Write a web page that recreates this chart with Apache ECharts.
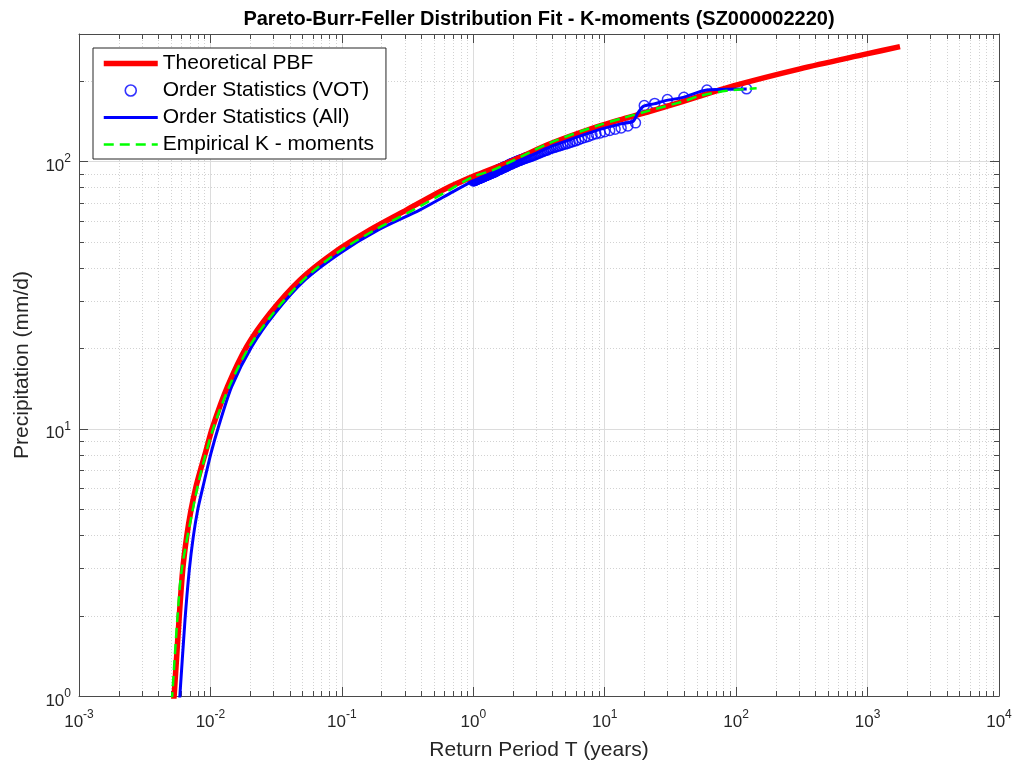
<!DOCTYPE html>
<html>
<head>
<meta charset="utf-8">
<title>Pareto-Burr-Feller Distribution Fit - K-moments (SZ000002220)</title>
<script src="https://cdn.jsdelivr.net/npm/echarts@6.0.0/dist/echarts.min.js"></script>
<style>
  html, body { margin: 0; padding: 0; background: #ffffff; }
  #chart { width: 1019px; height: 762px; }
</style>
</head>
<body>
<div id="chart"></div>
<script>
// Theoretical Pareto-Burr-Feller quantiles: return period T (years) vs precipitation (mm/d)
const pbfT = [0.005236, 0.005311, 0.005768, 0.006152, 0.006597, 0.007116, 0.007768, 0.008403, 0.009141, 0.01042,
  0.01349, 0.01888, 0.02839, 0.04802, 0.0861, 0.1637, 0.3113, 0.5911, 1.062, 2.0, 3.834, 8.69, 13.85, 22.1, 39.6,
  95.1, 306, 985, 1765];
const pbfP = [0.95, 1.024, 1.925, 2.962, 3.947, 4.967, 6.07, 7.01, 8.10, 10.18,
  14.38, 20.29, 27.06, 36.06, 45.4, 55.46, 65.9, 78.3, 89.1, 100.9, 116.4, 134.7, 144.4, 154.0, 167.9,
  191.8, 222.2, 252.7, 269.2];

// Order statistics of the annual values (VOT)
const votT = [120, 60, 40, 30, 24, 20, 17.14, 15, 13.33, 12,
  10.91, 10, 9.23, 8.57, 8, 7.5, 7.06, 6.67, 6.32, 6,
  5.71, 5.45, 5.22, 5, 4.8, 4.62, 4.44, 4.29, 4.14, 4,
  3.87, 3.75, 3.64, 3.53, 3.43, 3.33, 3.24, 3.16, 3.08, 3,
  2.93, 2.86, 2.79, 2.73, 2.67, 2.61, 2.55, 2.5, 2.45, 2.4,
  2.35, 2.31, 2.26, 2.22, 2.18, 2.14, 2.11, 2.07, 2.03, 2,
  1.97, 1.94, 1.9, 1.88, 1.85, 1.82, 1.79, 1.76, 1.74, 1.71,
  1.69, 1.67, 1.64, 1.62, 1.6, 1.58, 1.56, 1.54, 1.52, 1.5,
  1.48, 1.46, 1.45, 1.43, 1.41, 1.4, 1.38, 1.36, 1.35, 1.33,
  1.32, 1.3, 1.29, 1.28, 1.26, 1.25, 1.24, 1.22, 1.21, 1.2,
  1.19, 1.18, 1.17, 1.15, 1.14, 1.13, 1.12, 1.11, 1.1, 1.09,
  1.08, 1.07, 1.06, 1.05, 1.04, 1.03, 1.03, 1.02, 1.01, 1];
const votP = [187, 185, 174, 170.5, 165, 162, 139.5, 135.9, 133.6, 132.1,
  130.6, 129.2, 127.9, 126.9, 125.7, 124.1, 123.0, 121.9, 120.6, 119.5,
  118.6, 117.8, 116.9, 116.2, 115.5, 114.8, 114.2, 113.6, 113.0, 112.4,
  112.0, 111.1, 110.3, 109.9, 109.2, 108.6, 108.3, 107.5, 107.0, 106.4,
  105.9, 105.4, 105.0, 104.4, 104.1, 103.8, 103.4, 103.0, 102.6, 102.2,
  101.8, 101.6, 101.0, 100.7, 100.4, 100.0, 99.6, 99.3, 98.9, 98.6,
  98.2, 97.9, 97.6, 97.2, 96.8, 96.5, 96.1, 95.6, 95.5, 95.2,
  94.9, 94.6, 94.3, 94.0, 93.7, 93.4, 93.2, 92.9, 92.6, 92.3,
  91.9, 91.7, 91.5, 91.2, 90.9, 90.8, 90.6, 90.3, 90.1, 89.9,
  89.7, 89.5, 89.2, 89.1, 88.9, 88.7, 88.5, 88.3, 88.1, 87.9,
  87.7, 87.5, 87.4, 87.1, 87.0, 86.8, 86.6, 86.5, 86.3, 86.2,
  86.0, 85.8, 85.7, 85.5, 85.4, 85.2, 85.1, 84.9, 84.8, 84.6];

// Order statistics of all daily values
const allT = [0.00581, 0.005869, 0.006405, 0.006906, 0.007409, 0.007999, 0.008779, 0.0101, 0.01152, 0.01451,
  0.02061, 0.03099, 0.05244, 0.09678, 0.1893, 0.393, 0.6648, 1.0, 1.34, 1.991,
  2.897, 3.834, 5.94, 9.2, 13.3, 16.4, 17.9, 19.66, 23.7, 29.6,
  39.6, 59.7, 120.3];
const allP = [0.95, 1.02, 1.925, 2.962, 3.947, 4.967, 6.07, 8.10, 10.18, 14.38,
  20.29, 27.06, 36.06, 45.4, 55.46, 65.9, 76.0, 84.6, 90.0, 98.5,
  106.5, 113.4, 122.6, 131.9, 138.3, 141.3, 152.0, 160.8, 164.3, 169.3,
  173.8, 185.3, 186.9];

// Empirical K-moments estimate
const kmT = [0.005056, 0.005128, 0.005596, 0.006045, 0.007331, 0.008553, 0.01051, 0.01391, 0.01975, 0.03008, 0.05087,
  0.09135, 0.1787, 0.3496, 0.6276, 1.0, 1.42, 3.834, 8.69, 13.85, 22.1,
  39.6, 53.1, 84.7, 143.2];
const kmP = [0.95, 1.02, 1.925, 2.962, 4.967, 7.01, 10.04, 14.38, 20.29, 27.06, 36.06,
  45.4, 55.46, 65.9, 77.2, 87.8, 93.0, 117.4, 135.9, 145.6, 155.3,
  167.9, 176.0, 183.8, 188.0];

// Axis ranges and minor grid steps
const xRange = [0.001, 10000];
const yRange = [1, 300];
const xDecades = [0.001, 0.01, 0.1, 1, 10, 100, 1000];
const yDecades = [1, 10, 100];
const minorSteps = [2, 3, 4, 5, 6, 7, 8, 9];

const FONT = '"Liberation Sans", Arial, Helvetica, sans-serif';
const AXIS_COLOR = '#4a4a4a';
const TEXT_COLOR = '#262626';
const MAJOR_GRID = '#dcdcdc';
const MINOR_GRID = '#d2d2d2';

const xMinor = [];
xDecades.forEach(d => minorSteps.forEach(m => xMinor.push(m * d)));
const yMinor = [];
yDecades.forEach(d => minorSteps.forEach(m => { if (m * d < yRange[1]) yMinor.push(m * d); }));

const zip = (a, b) => a.map((v, i) => [v, b[i]]);

// Power-of-ten tick labels with a superscript exponent
function powLabel(v) {
  const e = Math.log10(v);
  const r = Math.round(e);
  if (Math.abs(e - r) > 1e-6) return '';
  return '{b|10}{s|' + r + '}';
}
const tickRich = {
  b: { fontSize: 17, lineHeight: 17, verticalAlign: 'bottom', fontFamily: FONT, color: TEXT_COLOR },
  s: { fontSize: 12, lineHeight: 12, padding: [0, 0, 10, 0], verticalAlign: 'bottom', fontFamily: FONT, color: TEXT_COLOR }
};

// Minor grid lines (dotted) with short inside tick marks on both sides
function renderMinorX(params, api) {
  const cs = params.coordSys;
  const x = Math.round(api.coord([api.value(0), yRange[0]])[0]) + 0.5;
  const top = cs.y, bot = cs.y + cs.height;
  return {
    type: 'group',
    children: [
      { type: 'line', shape: { x1: x, y1: top, x2: x, y2: bot }, style: { stroke: MINOR_GRID, lineWidth: 1, lineDash: [1, 2] } },
      { type: 'line', shape: { x1: x, y1: bot, x2: x, y2: bot - 5 }, style: { stroke: AXIS_COLOR, lineWidth: 1 } },
      { type: 'line', shape: { x1: x, y1: top, x2: x, y2: top + 5 }, style: { stroke: AXIS_COLOR, lineWidth: 1 } }
    ]
  };
}
function renderMinorY(params, api) {
  const cs = params.coordSys;
  const y = Math.round(api.coord([xRange[0], api.value(1)])[1]) + 0.5;
  const left = cs.x, right = cs.x + cs.width;
  return {
    type: 'group',
    children: [
      { type: 'line', shape: { x1: left, y1: y, x2: right, y2: y }, style: { stroke: MINOR_GRID, lineWidth: 1, lineDash: [1, 2] } },
      { type: 'line', shape: { x1: left, y1: y, x2: left + 5, y2: y }, style: { stroke: AXIS_COLOR, lineWidth: 1 } },
      { type: 'line', shape: { x1: right, y1: y, x2: right - 5, y2: y }, style: { stroke: AXIS_COLOR, lineWidth: 1 } }
    ]
  };
}

const axisLineStyle = { color: AXIS_COLOR, width: 1 };

const option = {
  animation: false,
  backgroundColor: '#ffffff',
  textStyle: { fontFamily: FONT },
  grid: { left: 79, right: 20, top: 34, bottom: 66, containLabel: false, outerBoundsMode: 'none' },
  graphic: [{
    type: 'text',
    x: 539, y: 19,
    style: {
      text: 'Pareto-Burr-Feller Distribution Fit - K-moments (SZ000002220)',
      fontFamily: FONT, fontSize: 20, fontWeight: 'bold', fill: '#000000',
      align: 'center', verticalAlign: 'middle'
    }
  }],
  legend: {
    orient: 'vertical',
    left: 93, top: 48,
    padding: [5, 12, 4, 8],
    itemWidth: 54, itemHeight: 11, itemGap: 6,
    backgroundColor: '#ffffff',
    borderColor: '#262626', borderWidth: 1, borderRadius: 0,
    selectedMode: false,
    textStyle: { fontSize: 21, lineHeight: 21, color: '#000000', fontFamily: FONT },
    data: [
      { name: 'Theoretical PBF', itemStyle: { opacity: 0 }, lineStyle: { width: 5.5, color: '#ff0000' } },
      { name: 'Order Statistics (VOT)', icon: 'circle', itemStyle: { color: 'rgba(0,0,0,0)', borderColor: '#0000ff', borderWidth: 1.6 } },
      { name: 'Order Statistics (All)', itemStyle: { opacity: 0 }, lineStyle: { width: 3, color: '#0000ff' } },
      { name: 'Empirical K - moments', itemStyle: { opacity: 0 }, lineStyle: { width: 2.5, color: '#00ff00', type: [10, 6] } }
    ]
  },
  xAxis: [{
    type: 'log', logBase: 10, min: xRange[0], max: xRange[1], position: 'bottom',
    name: 'Return Period T (years)', nameLocation: 'middle', nameGap: 44,
    nameTextStyle: { fontSize: 21, color: TEXT_COLOR, fontFamily: FONT },
    axisLine: { show: true, onZero: false, lineStyle: axisLineStyle },
    axisTick: { show: true, inside: true, length: 9, lineStyle: axisLineStyle },
    axisLabel: { show: true, interval: 0, margin: 18, formatter: powLabel, rich: tickRich, showMinLabel: true, showMaxLabel: true },
    splitLine: { show: true, lineStyle: { color: MAJOR_GRID, width: 1 } },
    minorTick: { show: false }, minorSplitLine: { show: false }
  }, {
    type: 'log', logBase: 10, min: xRange[0], max: xRange[1], position: 'top',
    axisLine: { show: true, onZero: false, lineStyle: axisLineStyle },
    axisTick: { show: true, inside: true, length: 9, lineStyle: axisLineStyle },
    axisLabel: { show: false }, splitLine: { show: false }
  }],
  yAxis: [{
    type: 'log', logBase: 10, min: yRange[0], max: yRange[1], position: 'left',
    name: 'Precipitation (mm/d)', nameLocation: 'middle', nameGap: 46,
    nameTextStyle: { fontSize: 21, color: TEXT_COLOR, fontFamily: FONT },
    axisLine: { show: true, onZero: false, lineStyle: axisLineStyle },
    axisTick: { show: true, inside: true, length: 9, lineStyle: axisLineStyle },
    axisLabel: { show: true, interval: 0, margin: 8, padding: [10, 0, 0, 0], formatter: powLabel, rich: tickRich, showMinLabel: true, showMaxLabel: true },
    splitLine: { show: true, lineStyle: { color: MAJOR_GRID, width: 1 } },
    minorTick: { show: false }, minorSplitLine: { show: false }
  }, {
    type: 'log', logBase: 10, min: yRange[0], max: yRange[1], position: 'right',
    axisLine: { show: true, onZero: false, lineStyle: axisLineStyle },
    axisTick: { show: true, inside: true, length: 9, lineStyle: axisLineStyle },
    axisLabel: { show: false }, splitLine: { show: false }
  }],
  series: [
    {
      type: 'custom', silent: true, z: 1,
      xAxisIndex: 0, yAxisIndex: 0,
      renderItem: renderMinorX,
      encode: { x: 0, y: 1 },
      data: xMinor.map(v => [v, yRange[0]])
    },
    {
      type: 'custom', silent: true, z: 1,
      xAxisIndex: 0, yAxisIndex: 0,
      renderItem: renderMinorY,
      encode: { x: 0, y: 1 },
      data: yMinor.map(v => [xRange[0], v])
    },
    {
      name: 'Theoretical PBF', type: 'line',
      data: zip(pbfT, pbfP),
      symbol: 'none', showSymbol: false, smooth: 0.3,
      lineStyle: { color: '#ff0000', width: 5.5 },
      itemStyle: { color: '#ff0000' },
      clip: true
    },
    {
      name: 'Order Statistics (VOT)', type: 'scatter',
      data: zip(votT, votP),
      symbol: 'circle', symbolSize: 10,
      itemStyle: { color: 'rgba(0,0,0,0)', borderColor: '#0000ff', borderWidth: 1.5 },
      clip: true
    },
    {
      name: 'Order Statistics (All)', type: 'line',
      data: zip(allT, allP),
      symbol: 'none', showSymbol: false, smooth: 0.25,
      lineStyle: { color: '#0000ff', width: 3 },
      itemStyle: { color: '#0000ff' },
      clip: true
    },
    {
      name: 'Empirical K - moments', type: 'line',
      data: zip(kmT, kmP),
      symbol: 'none', showSymbol: false, smooth: 0.3,
      lineStyle: { color: '#00ff00', width: 2.5, type: [10, 6] },
      itemStyle: { color: '#00ff00' },
      clip: true
    }
  ]
};

const chart = echarts.init(document.getElementById('chart'), null, { renderer: 'canvas' });
chart.setOption(option);
</script>
</body>
</html>
